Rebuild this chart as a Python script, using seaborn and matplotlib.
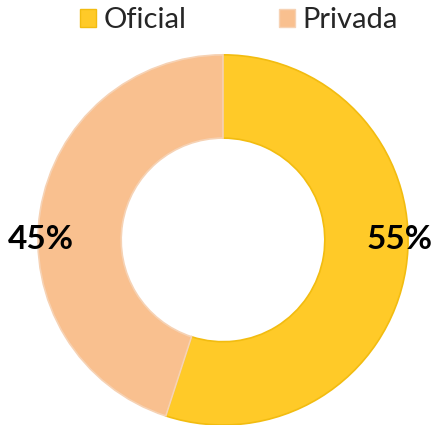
import matplotlib
matplotlib.use("Agg")
import matplotlib.pyplot as plt
import seaborn as sns
from matplotlib.patches import Patch

# datos
categorias = ["Oficial", "Privada"]
porcentajes = [55, 45]
colores = ["#FFCA28", "#F9C08F"]
bordes = ["#F2BC10", "#F6D2B4"]

sns.set_theme(style="white")
plt.rcParams['font.family'] = ['Lato', 'DejaVu Sans']

fig = plt.figure(figsize=(4.36, 4.25), dpi=100)
ax = fig.add_axes([0.087, 0.0, 0.849, 0.871])

wedges, _ = ax.pie(porcentajes, colors=colores, startangle=90, counterclock=False,
                   radius=1.0, wedgeprops=dict(width=0.45, linewidth=1.2))
for w, b in zip(wedges, bordes):
    w.set_edgecolor(b)

# etiquetas de porcentaje
ax.text(0.955, 0.0, f"{porcentajes[0]}%", ha="center", va="center",
        fontsize=24, fontweight="bold", color="black")
ax.text(-0.985, 0.0, f"{porcentajes[1]}%", ha="center", va="center",
        fontsize=24, fontweight="bold", color="black")
ax.set_xlim(-1, 1)
ax.set_ylim(-1, 1)
ax.set_aspect("equal")
ax.axis("off")

handles = [Patch(facecolor=c, edgecolor=b, label=l) for c, b, l in zip(colores, bordes, categorias)]
fig.legend(handles=handles, loc="upper center", bbox_to_anchor=(0.548, 1.045), ncol=2,
           frameon=False, fontsize=21, handlelength=0.55, handleheight=0.55,
           handletextpad=0.25, columnspacing=3.2)

fig.savefig("out.png", dpi=100)
